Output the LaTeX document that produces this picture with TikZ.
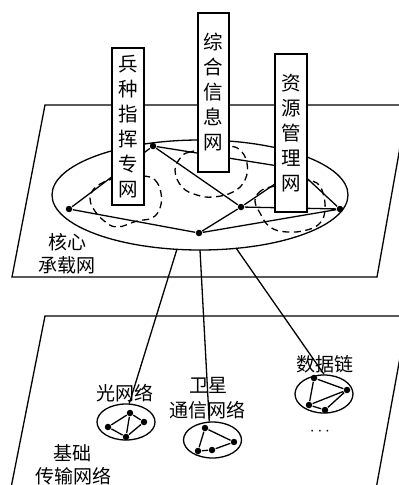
\documentclass[tikz,border=0pt]{standalone}
\usepackage{fontspec}
\newfontfamily\cjk{Noto Sans CJK SC}
\usetikzlibrary{shapes.geometric}
\begin{document}
\begin{tikzpicture}[x=1pt,y=-1pt, line width=1.3pt,
  dot/.style={circle,fill=black,inner sep=0pt,minimum size=6.5pt},
  lbl/.style={font=\cjk\fontsize{19}{24}\selectfont, inner sep=0pt, align=center},
  pillar/.style={draw, fill=white, inner sep=0pt, align=center, font=\cjk\fontsize{19.5}{25}\selectfont, minimum width=32pt},
  subnet/.style={draw, ellipse, inner sep=0pt, minimum width=58pt, minimum height=36pt},
  dloop/.style={dash pattern=on 7pt off 4.5pt}]
\useasboundingbox (0,0) rectangle (399,485);
\clip (0,0) rectangle (399,485);

% planes
\coordinate (p1a) at (45,105);
\coordinate (p1b) at (407.5,105);
\coordinate (p1c) at (377,277);
\coordinate (p1d) at (12,277);
\draw (p1a) -- (p1b) -- (p1c) -- (p1d) -- cycle;
\coordinate (p2a) at (45,316);
\coordinate (p2b) at (407.6,316);
\coordinate (p2c) at (374,500);
\coordinate (p2d) at (8.6,500);
\draw (p2a) -- (p2b) -- (p2c) -- (p2d) -- cycle;

% core ellipse
\node[draw, ellipse, inner sep=0pt, minimum width=296pt, minimum height=110pt] (core) at (200,195) {};

% core nodes
\node[dot] (na) at (69,209) {};
\node[dot] (nb) at (153,146) {};
\node[dot] (nc) at (241,207) {};
\node[dot] (nd) at (199,233) {};
\node[dot] (ne) at (340,209) {};
\coordinate (nh) at (297,169);
\draw (na) -- (nb) (na) -- (nd) (nd) -- (nc) (nb) -- (nc) (nc) -- (ne) (nd) -- (ne)
      (nb) -- (nh) (nc) -- (nh) (nh) -- (ne);

% dashed loops
\draw[dloop] plot[smooth cycle, tension=0.7] coordinates {(144,176) (155,180) (161,193) (160,208) (152,218) (137,221) (117,227) (103,220) (93,208) (90,198) (93,190) (100,184) (112,179) (128,176)};
\draw[dloop] plot[smooth cycle, tension=0.7] coordinates {(198,150) (190,152) (182,156) (175,170) (182,187) (197,195) (213,197) (233,192) (245,180) (247,163) (240,150) (229,146) (213,146)};
\draw[dloop] plot[smooth cycle, tension=0.7] coordinates {(275,186) (262,190) (255,200) (260,213) (270,227) (287,232) (307,230) (320,223) (325,210) (323,193) (317,183) (307,181) (291,182)};

% pillars
\node[pillar, minimum height=157pt] (box1) at (128,126.5) {兵\\种\\指\\挥\\专\\网};
\node[pillar, minimum height=159pt, minimum width=31pt] (box2) at (213.5,92.5) {综\\合\\信\\息\\网};
\node[pillar, minimum height=158pt] (box3) at (291,133) {资\\源\\管\\理\\网};

% core labels
\node[lbl] (l1) at (67,242) {核心};
\node[lbl] (l2) at (67,265) {承载网};

% lower subnets
\node[subnet] (e1) at (126,422) {};
\node[subnet] (e2) at (212.5,440) {};
\node[subnet, minimum height=38pt] (e3) at (324,394) {};

\coordinate (t1) at (177,249);
\coordinate (t2) at (200,250);
\coordinate (t3) at (236,248);
\draw (t1) -- (e1.80);
\draw (t2) -- (e2.100);
\draw (t3) -- (e3.north);

% subnet 1
\node[dot] (a1) at (108,427) {};
\node[dot] (a2) at (130,413) {};
\node[dot] (a3) at (144,422) {};
\node[dot] (a4) at (126,437) {};
\draw (a1) -- (a2) -- (a3) -- (a4) -- (a1) (a2) -- (a4);

% subnet 2
\node[dot] (b1) at (205,428) {};
\node[dot] (b2) at (234,442) {};
\node[dot] (b3) at (212,450) {};
\node[dot] (b4) at (198,451) {};
\draw (b1) -- (b2) -- (b3) -- (b4) -- (b1);

% subnet 3
\node[dot] (c1) at (314,378) {};
\node[dot] (c2) at (347,390) {};
\node[dot] (c3) at (309,405) {};
\node[dot] (c4) at (325,410) {};
\draw (c1) -- (c2) -- (c4) -- (c3) -- (c1) (c3) -- (c2);

% lower labels
\node[lbl] (g1) at (125,393) {光网络};
\node[lbl] (g2) at (208,385) {卫星};
\node[lbl] (g3) at (207,410) {通信网络};
\node[lbl] (g4) at (325,364) {数据链};
\node[font=\fontsize{18}{20}\selectfont, inner sep=0pt] (g5) at (320,432) {$\cdots$};
\node[lbl] (g6) at (72,453) {基础};
\node[lbl] (g7) at (73,476) {传输网络};
\end{tikzpicture}
\end{document}
